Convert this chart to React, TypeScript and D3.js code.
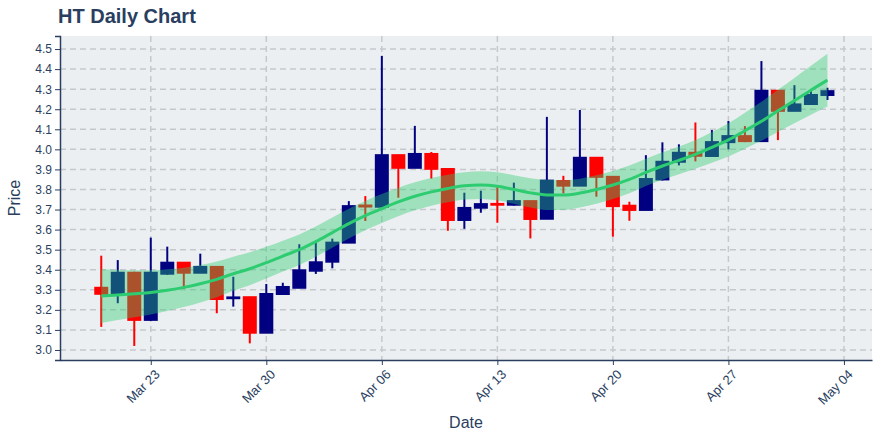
import React, { useEffect, useRef } from 'react';
import * as d3 from 'd3';

const dates = [
  '2020-03-20', '2020-03-21', '2020-03-22', '2020-03-23', '2020-03-24', '2020-03-25', '2020-03-26',
  '2020-03-27', '2020-03-28', '2020-03-29', '2020-03-30', '2020-03-31', '2020-04-01', '2020-04-02',
  '2020-04-03', '2020-04-04', '2020-04-05', '2020-04-06', '2020-04-07', '2020-04-08', '2020-04-09',
  '2020-04-10', '2020-04-11', '2020-04-12', '2020-04-13', '2020-04-14', '2020-04-15', '2020-04-16',
  '2020-04-17', '2020-04-18', '2020-04-19', '2020-04-20', '2020-04-21', '2020-04-22', '2020-04-23',
  '2020-04-24', '2020-04-25', '2020-04-26', '2020-04-27', '2020-04-28', '2020-04-29', '2020-04-30',
  '2020-05-01', '2020-05-02', '2020-05-03'
];

const opens = [
  3.31, 3.28, 3.385, 3.15, 3.38, 3.435, 3.385, 3.414, 3.258, 3.263, 3.086, 3.279, 3.31, 3.395, 3.44,
  3.535, 3.72, 3.714, 3.971, 3.908, 3.977, 3.902, 3.648, 3.709, 3.728, 3.724, 3.742, 3.654, 3.842, 3.819,
  3.958, 3.863, 3.719, 3.698, 3.85, 3.938, 3.983, 3.967, 4.036, 4.066, 4.041, 4.292, 4.192, 4.226, 4.271
];
const highs = [
  3.47, 3.448, 3.39, 3.56, 3.515, 3.435, 3.48, 3.414, 3.365, 3.263, 3.329, 3.335, 3.527, 3.535, 3.555,
  3.742, 3.767, 4.466, 3.971, 4.117, 3.987, 3.902, 3.784, 3.794, 3.82, 3.834, 3.742, 4.162, 3.868, 4.196,
  3.958, 3.863, 3.739, 3.971, 4.035, 4.025, 4.134, 4.096, 4.141, 4.116, 4.44, 4.292, 4.32, 4.295, 4.307
];
const lows = [
  3.115, 3.233, 3.02, 3.145, 3.375, 3.304, 3.385, 3.183, 3.216, 3.033, 3.086, 3.279, 3.31, 3.379, 3.407,
  3.535, 3.643, 3.714, 3.759, 3.908, 3.854, 3.594, 3.604, 3.684, 3.634, 3.72, 3.556, 3.654, 3.78, 3.819,
  3.764, 3.565, 3.644, 3.698, 3.845, 3.92, 3.94, 3.967, 4.0, 4.036, 4.041, 4.046, 4.192, 4.226, 4.246
];
const closes = [
  3.28, 3.385, 3.15, 3.385, 3.435, 3.385, 3.414, 3.254, 3.262, 3.086, 3.279, 3.314, 3.397, 3.437, 3.535,
  3.717, 3.715, 3.971, 3.908, 3.977, 3.903, 3.648, 3.708, 3.727, 3.724, 3.742, 3.653, 3.844, 3.819, 3.958,
  3.863, 3.717, 3.698, 3.852, 3.938, 3.983, 3.968, 4.036, 4.066, 4.041, 4.292, 4.192, 4.224, 4.271, 4.29
];

// smoothed trend and half-width of the shaded band around it
const trend = [
  3.269, 3.274, 3.28, 3.287, 3.298, 3.312, 3.33, 3.352, 3.38, 3.405, 3.435, 3.468, 3.5, 3.54, 3.585,
  3.63, 3.67, 3.705, 3.738, 3.766, 3.788, 3.805, 3.818, 3.822, 3.816, 3.8, 3.783, 3.773, 3.772, 3.782,
  3.8, 3.822, 3.85, 3.885, 3.917, 3.945, 3.975, 4.01, 4.047, 4.093, 4.14, 4.192, 4.243, 4.295, 4.345
];
const bandHalf = [
  0.134, 0.125, 0.117, 0.11, 0.104, 0.098, 0.093, 0.089, 0.085, 0.082, 0.079, 0.077, 0.076, 0.075, 0.075,
  0.074, 0.073, 0.072, 0.071, 0.07, 0.069, 0.069, 0.068, 0.069, 0.07, 0.071, 0.073, 0.075, 0.074, 0.072,
  0.071, 0.07, 0.069, 0.068, 0.068, 0.069, 0.072, 0.077, 0.083, 0.09, 0.097, 0.105, 0.113, 0.122, 0.131
];

const priceTicks = [3.0, 3.1, 3.2, 3.3, 3.4, 3.5, 3.6, 3.7, 3.8, 3.9, 4.0, 4.1, 4.2, 4.3, 4.4, 4.5];
const dateTicks = ['2020-03-23', '2020-03-30', '2020-04-06', '2020-04-13', '2020-04-20', '2020-04-27', '2020-05-04'];

const UP = '#000080';
const DOWN = '#ff0000';
const TEXT = '#2a3f5f';
const FONT = '"Liberation Sans", Arial, sans-serif';

const App: React.FC = () => {
  const chartRef = useRef<SVGSVGElement>(null);

  useEffect(() => {
    if (!chartRef.current) return;
    document.body.style.margin = '0';

    d3.select(chartRef.current).selectAll('*').remove();

    const W = 880;
    const H = 440;
    const margin = { top: 36, right: 8, bottom: 80, left: 60 };
    const width = W - margin.left - margin.right;
    const height = H - margin.top - margin.bottom;

    const parse = d3.timeParse('%Y-%m-%d');
    const data = dates.map((d, i) => ({
      date: parse(d) as Date,
      open: opens[i],
      high: highs[i],
      low: lows[i],
      close: closes[i],
      trend: trend[i],
      half: bandHalf[i]
    }));

    const DAY = 86400000;
    const first = data[0].date.getTime();
    const last = data[data.length - 1].date.getTime();

    const x = d3.scaleTime()
      .domain([new Date(first - 2.5 * DAY), new Date(last + 2.7 * DAY)])
      .range([0, width]);

    const y = d3.scaleLinear()
      .domain([2.95, 4.565])
      .range([height, 0]);

    const svg = d3.select(chartRef.current)
      .attr('width', W)
      .attr('height', H)
      .style('font-family', FONT);

    // title
    svg.append('text')
      .attr('x', 58)
      .attr('y', 23)
      .attr('fill', TEXT)
      .style('font-size', '20px')
      .style('font-weight', 'bold')
      .text('HT Daily Chart');

    const g = svg.append('g')
      .attr('transform', `translate(${margin.left},${margin.top})`);

    // plot background
    g.append('rect')
      .attr('width', width)
      .attr('height', height)
      .attr('fill', '#eceff1');

    // grid
    g.append('g')
      .selectAll('line')
      .data(priceTicks)
      .enter()
      .append('line')
      .attr('x1', 0)
      .attr('x2', width)
      .attr('y1', d => y(d))
      .attr('y2', d => y(d))
      .attr('stroke', '#c5c9cd')
      .attr('stroke-width', 1.5)
      .attr('stroke-dasharray', '6,4');

    const tickDates = dateTicks.map(d => parse(d) as Date);
    g.append('g')
      .selectAll('line')
      .data(tickDates)
      .enter()
      .append('line')
      .attr('x1', d => x(d))
      .attr('x2', d => x(d))
      .attr('y1', 0)
      .attr('y2', height)
      .attr('stroke', '#c5c9cd')
      .attr('stroke-width', 1.5)
      .attr('stroke-dasharray', '6,4');

    // candles
    const bodyW = 12;
    const candles = g.append('g')
      .selectAll('g')
      .data(data)
      .enter()
      .append('g');

    candles.append('line')
      .attr('x1', d => x(d.date))
      .attr('x2', d => x(d.date))
      .attr('y1', d => y(d.high))
      .attr('y2', d => y(d.low))
      .attr('stroke', d => (d.close >= d.open ? UP : DOWN))
      .attr('stroke-width', 2);

    candles.append('rect')
      .attr('x', d => x(d.date) - bodyW / 2)
      .attr('width', bodyW)
      .attr('y', d => y(Math.max(d.open, d.close)))
      .attr('height', d => Math.abs(y(d.open) - y(d.close)))
      .attr('fill', d => (d.close >= d.open ? UP : DOWN))
      .attr('stroke', d => (d.close >= d.open ? UP : DOWN))
      .attr('stroke-width', 2);

    // band + trend line
    const area = d3.area<typeof data[0]>()
      .x(d => x(d.date))
      .y0(d => y(d.trend - d.half))
      .y1(d => y(d.trend + d.half))
      .curve(d3.curveMonotoneX);

    g.append('path')
      .datum(data)
      .attr('d', area)
      .attr('fill', 'rgba(46,204,113,0.4)');

    const line = d3.line<typeof data[0]>()
      .x(d => x(d.date))
      .y(d => y(d.trend))
      .curve(d3.curveMonotoneX);

    g.append('path')
      .datum(data)
      .attr('d', line)
      .attr('fill', 'none')
      .attr('stroke', '#2ecc71')
      .attr('stroke-width', 3);

    // axes
    const yAxis = g.append('g')
      .call(d3.axisLeft(y).tickValues(priceTicks).tickFormat(d3.format('.1f')).tickSize(5).tickPadding(3));
    yAxis.select('.domain').attr('stroke', TEXT).attr('stroke-width', 1.5);
    yAxis.selectAll('.tick line').attr('stroke', TEXT);
    yAxis.selectAll('.tick text')
      .attr('fill', TEXT)
      .style('font-size', '12px')
      .style('font-family', FONT);

    const xAxis = g.append('g')
      .attr('transform', `translate(0,${height})`)
      .call(d3.axisBottom(x).tickValues(tickDates).tickFormat(d3.timeFormat('%b %d') as any).tickSize(5).tickSizeOuter(0));
    xAxis.select('.domain').attr('stroke', TEXT).attr('stroke-width', 1.5);
    xAxis.selectAll('.tick line').attr('stroke', TEXT);
    xAxis.selectAll('.tick text')
      .attr('fill', TEXT)
      .style('font-size', '13px')
      .style('font-family', FONT)
      .style('text-anchor', 'end')
      .attr('y', 0)
      .attr('dy', '0.35em')
      .attr('transform', 'translate(6,12) rotate(-45)');

    // axis titles
    svg.append('text')
      .attr('transform', `translate(20,${margin.top + height / 2}) rotate(-90)`)
      .attr('text-anchor', 'middle')
      .attr('fill', TEXT)
      .style('font-size', '16px')
      .text('Price');

    svg.append('text')
      .attr('x', margin.left + width / 2)
      .attr('y', 428)
      .attr('text-anchor', 'middle')
      .attr('fill', TEXT)
      .style('font-size', '16px')
      .text('Date');
  }, []);

  return <svg ref={chartRef} style={{ display: 'block' }}></svg>;
};

export default App;
